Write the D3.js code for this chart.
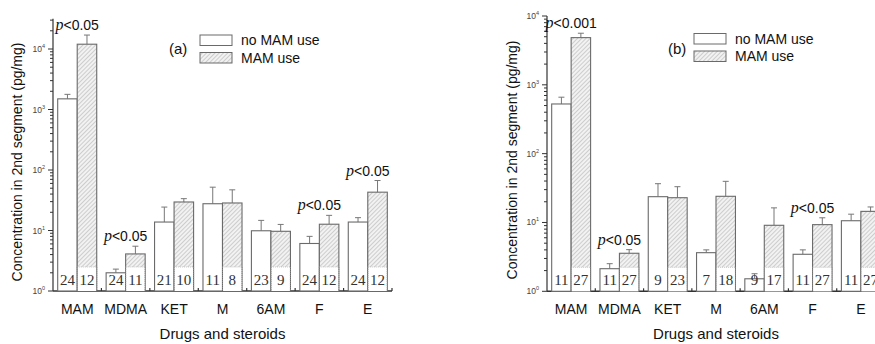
<!DOCTYPE html>
<html>
<head>
<meta charset="utf-8">
<script src="https://cdn.jsdelivr.net/npm/d3@7"></script>
<style>
  body { margin: 0; background: #fff; }
  svg { display: block; font-family: Arial, "Liberation Sans", sans-serif; }
</style>
</head>
<body>
<svg id="chart" width="875" height="344"></svg>
<script>
// Drugs and steroids measured in the 2nd hair segment
const categories = ["MAM", "MDMA", "KET", "M", "6AM", "F", "E"];
const seriesNames = ["no MAM use", "MAM use"];

// Panel (a): means and upper error limits (pg/mg)
const aNoMAM      = [1500, 2.0, 13.8, 27.7, 9.9, 6.1, 13.8];
const aNoMAMUpper = [1780, 2.3, 24.4, 52, 14.7, 8.0, 16.3];
const aMAM        = [12000, 4.1, 29.6, 28.5, 9.7, 12.7, 43];
const aMAMUpper   = [17000, 5.5, 33.6, 47, 12.6, 17.8, 67];
const aNoMAMN     = [24, 24, 21, 11, 23, 24, 24];
const aMAMN       = [12, 11, 10, 8, 9, 12, 12];
const aSignif     = [["MAM", "<0.05"], ["MDMA", "<0.05"], ["F", "<0.05"], ["E", "<0.05"]];

// Panel (b): means and upper error limits (pg/mg)
const bNoMAM      = [527, 2.13, 23.7, 3.64, 1.52, 3.45, 10.6];
const bNoMAMUpper = [661, 2.52, 36.6, 4.0, 1.80, 4.0, 13.2];
const bMAM        = [4850, 3.57, 22.9, 24, 9.1, 9.3, 14.5];
const bMAMUpper   = [5620, 4.03, 33.1, 39.6, 16.3, 11.7, 16.8];
const bNoMAMN     = [11, 11, 9, 7, 9, 11, 11];
const bMAMN       = [27, 27, 23, 18, 17, 27, 27];
const bSignif     = [["MAM", "<0.001"], ["MDMA", "<0.05"], ["F", "<0.05"]];

const yAxisTitle = "Concentration in 2nd segment (pg/mg)";
const xAxisTitle = "Drugs and steroids";

const serif = "'Liberation Serif', 'Times New Roman', serif";
const svg = d3.select("#chart");

// Diagonal hatch for the "MAM use" bars
const defs = svg.append("defs");
const pat = defs.append("pattern")
  .attr("id", "hatch").attr("patternUnits", "userSpaceOnUse")
  .attr("width", 3).attr("height", 3)
  .attr("patternTransform", "rotate(45)");
pat.append("rect").attr("width", 3).attr("height", 3).attr("fill", "#f2f2f2");
pat.append("line").attr("x1", 0).attr("y1", 0).attr("x2", 0).attr("y2", 3)
  .attr("stroke", "#a8a8a8").attr("stroke-width", 1);

const axisColor = "#333";
const barStroke = "#6a6a6a";

function drawPanel(p) {
  const g = svg.append("g");
  const x = d3.scaleBand().domain(categories).range([p.left, p.right]).padding(0);
  const y = d3.scaleLog().domain([1, p.yMax]).range([p.bottom, p.top]);
  const bw = x.bandwidth() * 0.403;

  // y axis with log minor ticks
  g.append("line").attr("x1", p.left).attr("x2", p.left)
    .attr("y1", y(1)).attr("y2", y(p.yMax)).attr("stroke", axisColor).attr("stroke-width", 1.2);
  const maxDec = Math.ceil(Math.log10(p.yMax));
  for (let d = 0; d <= maxDec; d++) {
    for (let k = 1; k <= 9; k++) {
      const v = k * Math.pow(10, d);
      if (v > p.yMax * 1.0001) continue;
      const major = k === 1;
      g.append("line").attr("x1", p.left).attr("x2", p.left - (major ? 5 : 3))
        .attr("y1", y(v)).attr("y2", y(v)).attr("stroke", axisColor).attr("stroke-width", 1);
      if (major) {
        const t = g.append("text").attr("x", p.left - 8).attr("y", y(v) + 3)
          .attr("text-anchor", "end").attr("font-size", 8.5).attr("fill", "#444");
        t.append("tspan").text("10");
        t.append("tspan").attr("font-size", 5.5).attr("dy", -4).text(d);
      }
    }
  }

  // x axis with small boundary ticks
  g.append("line").attr("x1", p.left).attr("x2", p.right)
    .attr("y1", y(1)).attr("y2", y(1)).attr("stroke", axisColor).attr("stroke-width", 1.5);
  categories.forEach((c) => {
    const bx = x(c) + x.bandwidth();
    g.append("line").attr("x1", bx).attr("x2", bx).attr("y1", y(1)).attr("y2", y(1) - 3)
      .attr("stroke", axisColor).attr("stroke-width", 1.2);
    g.append("text").attr("x", x(c) + x.bandwidth() / 2).attr("y", p.bottom + 23)
      .attr("text-anchor", "middle").attr("font-size", 14).attr("fill", "#111").text(c);
  });

  // bars
  const series = [
    { vals: p.noMAM, upper: p.noMAMUpper, n: p.noMAMN, fill: "#fff", off: -bw },
    { vals: p.mam, upper: p.mamUpper, n: p.mamN, fill: "url(#hatch)", off: 0 }
  ];
  series.forEach((s, si) => {
    categories.forEach((c, i) => {
      const cx = x(c) + x.bandwidth() / 2 + s.off;
      const top = y(s.vals[i]);
      const up = y(s.upper[i]);
      // error whisker
      g.append("line").attr("x1", cx + bw / 2).attr("x2", cx + bw / 2).attr("y1", top).attr("y2", up)
        .attr("stroke", "#777").attr("stroke-width", 1);
      g.append("line").attr("x1", cx + bw / 2 - 3).attr("x2", cx + bw / 2 + 3).attr("y1", up).attr("y2", up)
        .attr("stroke", "#777").attr("stroke-width", 1);
      g.append("rect").attr("x", cx).attr("y", top).attr("width", bw).attr("height", y(1) - top)
        .attr("fill", s.fill).attr("stroke", barStroke).attr("stroke-width", 1.1);
      if (si === 1) {
        // white count box at the foot of the hatched bar
        const boxTop = Math.max(top, y(1) - 24);
        g.append("rect").attr("x", cx + 0.6).attr("y", boxTop).attr("width", bw - 1.2)
          .attr("height", y(1) - boxTop).attr("fill", "#fff");
        g.append("line").attr("x1", cx).attr("x2", cx + bw).attr("y1", boxTop).attr("y2", boxTop)
          .attr("stroke", "#bbb").attr("stroke-width", 0.8).attr("stroke-dasharray", "1,1");
        [cx, cx + bw].forEach(ex => g.append("line").attr("x1", ex).attr("x2", ex)
          .attr("y1", boxTop).attr("y2", y(1))
          .attr("stroke", "#888").attr("stroke-width", 1).attr("stroke-dasharray", "1,1"));
      }
      g.append("text").attr("x", cx + bw / 2).attr("y", y(1) - 6.5)
        .attr("text-anchor", "middle").attr("font-size", 15).attr("fill", "#333")
        .style("font-family", serif).text(s.n[i]);
    });
  });

  // significance labels
  p.signif.forEach(([c, label]) => {
    const i = categories.indexOf(c);
    const top = Math.min(y(p.noMAMUpper[i]), y(p.mamUpper[i]));
    const t = g.append("text").attr("x", x(c) + x.bandwidth() / 2).attr("y", top - 5)
      .attr("text-anchor", "middle").attr("font-size", 14).attr("fill", "#111");
    t.append("tspan").style("font-family", serif)
      .style("font-style", "italic").attr("font-size", 16).text("p");
    t.append("tspan").text(label);
  });

  // axis titles
  g.append("text").attr("transform", `translate(${p.yTitleX},${p.yTitleY}) rotate(-90)`)
    .attr("text-anchor", "middle").attr("font-size", 14).attr("fill", "#111").text(yAxisTitle);
  g.append("text").attr("x", (p.left + x.range()[1]) / 2).attr("y", 339)
    .attr("text-anchor", "middle").attr("font-size", 15).attr("fill", "#111").text(xAxisTitle);

  // panel tag and legend
  g.append("text").attr("x", p.tagX).attr("y", 54).attr("font-size", 15).attr("fill", "#111").text(p.tag);
  const fills = ["#fff", "url(#hatch)"];
  seriesNames.forEach((name, k) => {
    const ly = p.legendY + k * 17.5;
    g.append("rect").attr("x", p.legendX).attr("y", ly).attr("width", 32).attr("height", 10.5)
      .attr("fill", fills[k]).attr("stroke", barStroke).attr("stroke-width", 1);
    g.append("text").attr("x", p.legendX + 41).attr("y", ly + 10).attr("font-size", 14)
      .attr("fill", "#111").text(name);
  });
}

drawPanel({
  left: 53, right: 392, top: 18.75, bottom: 291, yMax: Math.pow(10, 4.5),
  noMAM: aNoMAM, noMAMUpper: aNoMAMUpper, mam: aMAM, mamUpper: aMAMUpper,
  noMAMN: aNoMAMN, mamN: aMAMN, signif: aSignif,
  yTitleX: 22, yTitleY: 162, tag: "(a)", tagX: 169, legendX: 200, legendY: 35
});

drawPanel({
  left: 547, right: 885, top: 16, bottom: 291.3, yMax: 10000,
  noMAM: bNoMAM, noMAMUpper: bNoMAMUpper, mam: bMAM, mamUpper: bMAMUpper,
  noMAMN: bNoMAMN, mamN: bMAMN, signif: bSignif,
  yTitleX: 517, yTitleY: 160, tag: "(b)", tagX: 668, legendX: 694, legendY: 33.5
});
</script>
</body>
</html>
